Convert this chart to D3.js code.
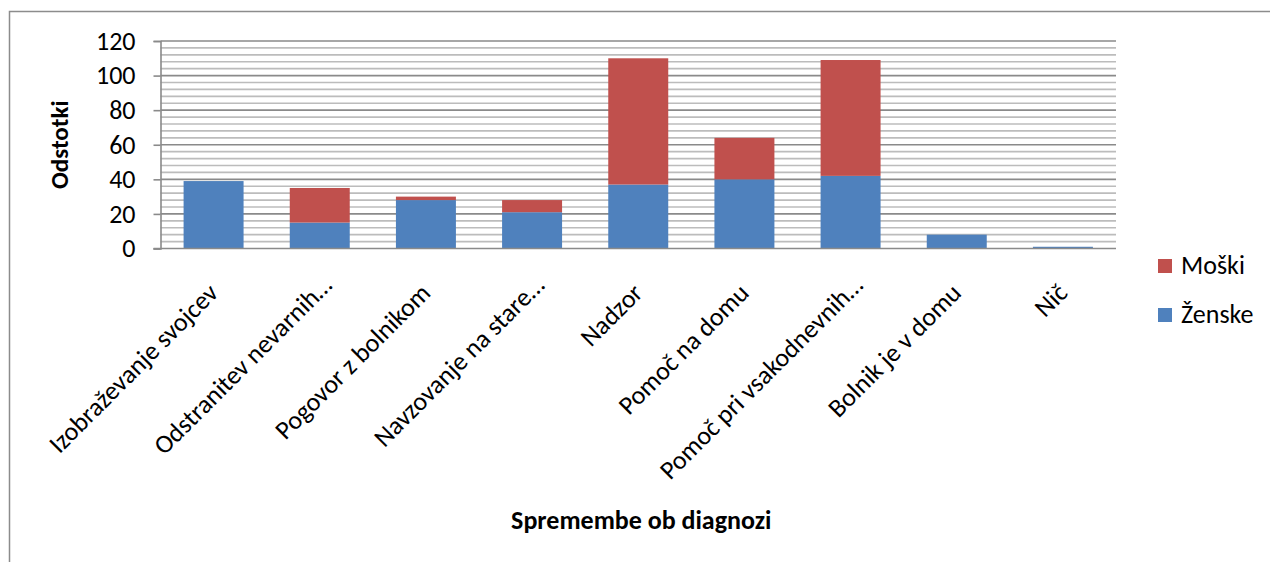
<!DOCTYPE html>
<html>
<head>
<meta charset="utf-8">
<script src="https://cdn.jsdelivr.net/npm/d3@7"></script>
<style>
  html, body { margin: 0; padding: 0; background: #fff; }
  svg { display: block; font-family: Carlito, Lato, "Liberation Sans", sans-serif; }
</style>
</head>
<body>
<svg id="chart" width="1270" height="562"></svg>
<script>
// Categories (x axis) and the two stacked series, in percent
const categories = [
  "Izobraževanje svojcev",
  "Odstranitev nevarnih…",
  "Pogovor z bolnikom",
  "Navzovanje na stare…",
  "Nadzor",
  "Pomoč na domu",
  "Pomoč pri vsakodnevnih…",
  "Bolnik je v domu",
  "Nič"
];
const zenske = [39, 15, 28, 21, 37, 40, 42, 8, 1];
const moski  = [0, 20, 2, 7, 73, 24, 67, 0, 0];
const yTicks = [0, 20, 40, 60, 80, 100, 120];
const seriesNames = ["Ženske", "Moški"];
const seriesColors = ["#4f81bd", "#c0504d"];

const svg = d3.select("#chart");
const plot = { left: 160.5, right: 1116, top: 41, bottom: 248.5 };

// Outer chart frame (only top and left edges fall inside the view)
svg.append("path")
  .attr("d", "M9.5,562 V11.5 H1270")
  .attr("fill", "none").attr("stroke", "#8c8c8c").attr("stroke-width", 1.5);

const x = d3.scaleBand()
  .domain(categories)
  .range([plot.left, plot.right])
  .paddingInner(0.435)
  .paddingOuter(0.2175);

const y = d3.scaleLinear().domain([0, 120]).range([plot.bottom, plot.top]);

// Minor gridlines every 4 units
const minor = d3.range(0, 121, 4).filter(v => v % 20 !== 0);
svg.append("g").selectAll("line").data(minor).join("line")
  .attr("x1", plot.left).attr("x2", plot.right)
  .attr("y1", d => y(d)).attr("y2", d => y(d))
  .attr("stroke", "#bcbcbc").attr("stroke-width", 1.6);

// Major gridlines
svg.append("g").selectAll("line").data(yTicks.filter(v => v > 0)).join("line")
  .attr("x1", plot.left).attr("x2", plot.right)
  .attr("y1", d => y(d)).attr("y2", d => y(d))
  .attr("stroke", "#8a8a8a").attr("stroke-width", 1.6);

// Stacked bars
const rows = categories.map((c, i) => ({ cat: c, "Ženske": zenske[i], "Moški": moski[i] }));
const stacked = d3.stack().keys(seriesNames)(rows);
svg.append("g").selectAll("g").data(stacked).join("g")
  .attr("fill", (d, i) => seriesColors[i])
  .selectAll("rect").data(d => d).join("rect")
  .attr("x", d => x(d.data.cat))
  .attr("width", x.bandwidth())
  .attr("y", d => y(d[1]))
  .attr("height", d => y(d[0]) - y(d[1]));

// Y axis
const yAxis = svg.append("g")
  .attr("transform", `translate(${plot.left},0)`)
  .call(d3.axisLeft(y).tickValues(yTicks).tickSize(7).tickPadding(18));
yAxis.select(".domain").attr("stroke", "#8a8a8a").attr("stroke-width", 1.6);
yAxis.selectAll(".tick line").attr("stroke", "#8a8a8a").attr("stroke-width", 1.6);
yAxis.selectAll(".tick text")
  .attr("font-family", "Carlito, Lato, sans-serif")
  .attr("font-size", 26).attr("fill", "#000");

// X axis line
svg.append("line")
  .attr("x1", plot.left - 7).attr("x2", plot.right)
  .attr("y1", plot.bottom).attr("y2", plot.bottom)
  .attr("stroke", "#8a8a8a").attr("stroke-width", 1.6);

// Rotated category labels; truncated ones sit a little further along the slant
svg.append("g").selectAll("text").data(categories).join("text")
  .attr("transform", d => `translate(${x(d) + x.bandwidth() / 2 + 6},${plot.bottom + 46}) rotate(-45)`)
  .attr("text-anchor", "end")
  .attr("dx", d => d.endsWith("…") ? 11 : 0)
  .attr("font-size", 26)
  .attr("fill", "#000")
  .text(d => d);

// Axis titles
svg.append("text")
  .attr("transform", `translate(68,${(plot.top + plot.bottom) / 2}) rotate(-90)`)
  .attr("text-anchor", "middle")
  .attr("font-weight", "bold").attr("font-size", 25)
  .text("Odstotki");

svg.append("text")
  .attr("x", (plot.left + plot.right) / 2 + 3).attr("y", 529)
  .attr("text-anchor", "middle")
  .attr("font-weight", "bold").attr("font-size", 26)
  .text("Spremembe ob diagnozi");

// Legend (top series listed first)
const legendItems = [
  { name: seriesNames[1], color: seriesColors[1], y: 259 },
  { name: seriesNames[0], color: seriesColors[0], y: 308 }
];
const lg = svg.append("g").selectAll("g").data(legendItems).join("g")
  .attr("transform", d => `translate(1158,${d.y})`);
lg.append("rect").attr("width", 14).attr("height", 14).attr("fill", d => d.color);
lg.append("text").attr("x", 23).attr("y", 15)
  .attr("font-size", 26).attr("fill", "#000")
  .text(d => d.name);
</script>
</body>
</html>
